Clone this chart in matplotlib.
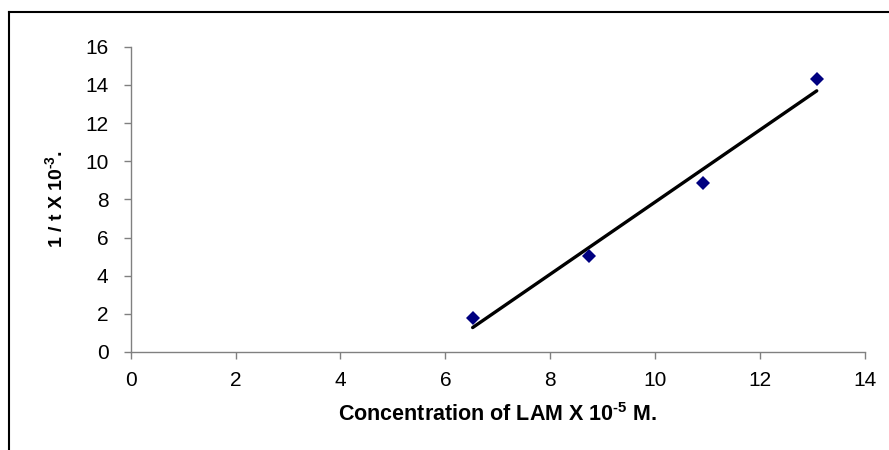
import numpy as np
import matplotlib
matplotlib.use("Agg")
import matplotlib.pyplot as plt
from matplotlib.lines import Line2D

plt.rcParams['font.family'] = ['Liberation Sans', 'DejaVu Sans']
plt.rcParams['mathtext.fontset'] = 'custom'
plt.rcParams['mathtext.rm'] = 'Liberation Sans:bold'
plt.rcParams['mathtext.bf'] = 'Liberation Sans:bold'
plt.rcParams['mathtext.it'] = 'Liberation Sans:bold'

# Concentration of LAM (x 10^-5 M) and rate 1/t (x 10^-3)
conc = [6.52, 8.74, 10.91, 13.08]
rate = [1.80, 5.05, 8.87, 14.31]

x_ticks = [0, 2, 4, 6, 8, 10, 12, 14]
y_ticks = [0, 2, 4, 6, 8, 10, 12, 14, 16]

fig = plt.figure(figsize=(8.89, 4.5), dpi=100)
ax = fig.add_axes([0.147, 0.2178, 0.826, 0.6784])

# least-squares trend line over the measured range
slope, intercept = np.polyfit(conc, rate, 1)
xs = np.array([min(conc), max(conc)])
ax.plot(xs, slope * xs + intercept, color='black', lw=2.4, solid_capstyle='round', zorder=2)
ax.plot(conc, rate, linestyle='none', marker='D', markersize=7,
        color='#000080', markeredgewidth=0, zorder=3)

ax.set_xlim(0, 14)
ax.set_ylim(0, 16)
ax.set_xticks(x_ticks)
ax.set_yticks(y_ticks)

for side in ('top', 'right'):
    ax.spines[side].set_visible(False)
for side in ('left', 'bottom'):
    ax.spines[side].set_color('#808080')
    ax.spines[side].set_linewidth(1.0)

ax.tick_params(axis='both', colors='#808080', labelcolor='black', labelsize=15,
               width=1.0, length=5)
ax.tick_params(axis='y', pad=11)
ax.tick_params(axis='x', pad=9)

ax.set_xlabel(r'Concentration of LAM X 10$^{\text{-5}}$ M.', fontsize=15.5,
              fontweight='bold', labelpad=9)
ax.set_ylabel(r'1 / t X 10$^{\text{-3}}$.', fontsize=14, fontweight='bold',
              labelpad=14)

# frame lines along the top and left edges
fig.add_artist(Line2D([8.5 / 889, 1.0], [1 - 12 / 450, 1 - 12 / 450],
                      color='black', lw=1.5, transform=fig.transFigure))
fig.add_artist(Line2D([8.5 / 889, 8.5 / 889], [0.0, 1 - 12 / 450],
                      color='black', lw=1.5, transform=fig.transFigure))

fig.savefig('out.png', dpi=100)
